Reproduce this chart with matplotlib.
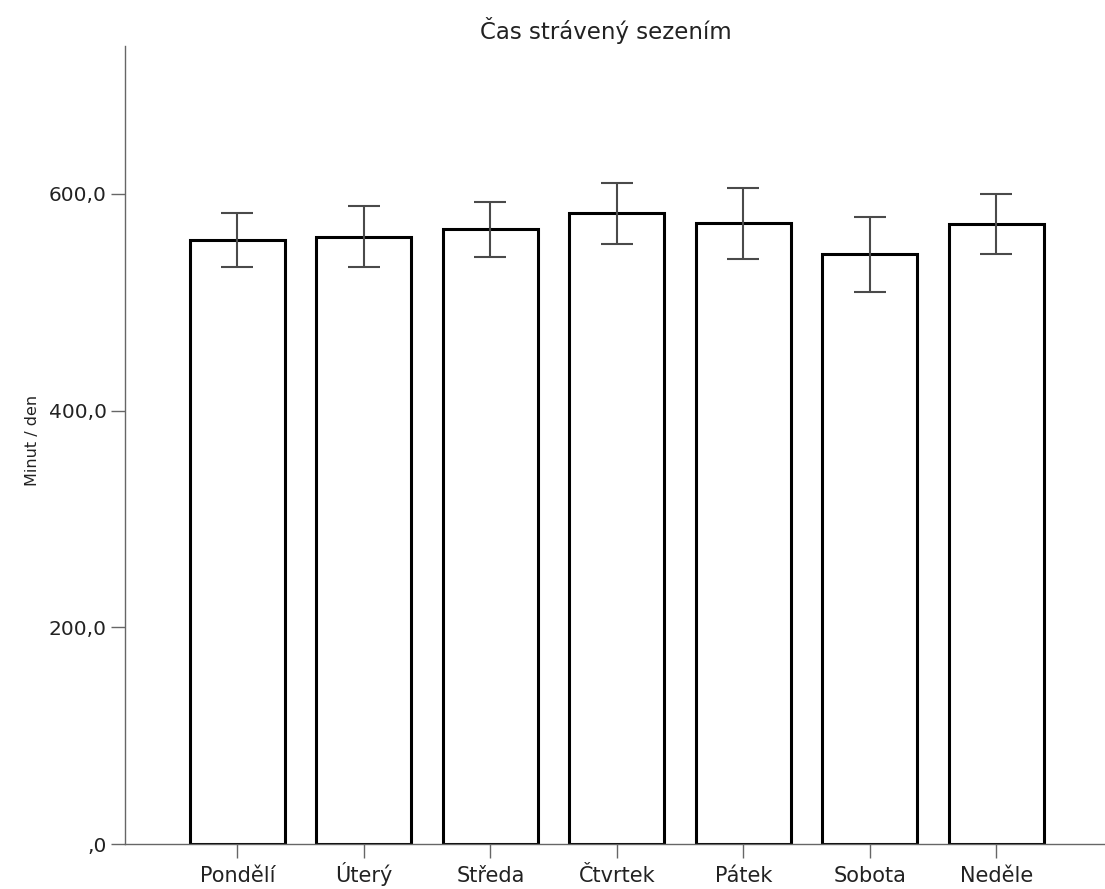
import matplotlib
matplotlib.use("Agg")
import matplotlib.pyplot as plt
from matplotlib.ticker import FixedLocator, FuncFormatter

# Mean daily sitting time per weekday with 95% CI
days = ["Pondělí", "Úterý", "Středa", "Čtvrtek", "Pátek", "Sobota", "Neděle"]
means = [557.5, 560.5, 567.5, 582.0, 572.8, 544.3, 572.0]
ci_low = [532.3, 532.9, 541.9, 553.9, 539.7, 509.8, 544.6]
ci_high = [582.7, 589.0, 592.4, 609.9, 605.3, 578.5, 599.7]
y_ticks = [0, 200, 400, 600]

plt.rcParams["font.family"] = ["DejaVu Sans"]
text_color = "#222222"
spine_color = "#666666"

fig = plt.figure(figsize=(11.05, 8.89), dpi=100)
ax = fig.add_axes([125 / 1105, 45 / 889, 980 / 1105, 798 / 889])

x = list(range(len(days)))
err_lo = [m - lo for m, lo in zip(means, ci_low)]
err_hi = [hi - m for m, hi in zip(means, ci_high)]

ax.bar(x, means, width=0.75, facecolor="white", edgecolor="black",
       linewidth=2.2, zorder=2)
ax.errorbar(x, means, yerr=[err_lo, err_hi], fmt="none", ecolor="#4a4a4a",
            elinewidth=1.5, capsize=11.5, capthick=1.5, zorder=3)

ax.set_xlim(-0.888, 6.859)
ax.set_ylim(0, 736.6)

for side in ("top", "right"):
    ax.spines[side].set_visible(False)
for side in ("left", "bottom"):
    ax.spines[side].set_color(spine_color)
    ax.spines[side].set_linewidth(1.0)

ax.xaxis.set_major_locator(FixedLocator(x))
ax.set_xticklabels(days, va="baseline")
ax.yaxis.set_major_locator(FixedLocator(y_ticks))
ax.yaxis.set_major_formatter(FuncFormatter(
    lambda v, p: ",0" if v == 0 else f"{v:.1f}".replace(".", ",")))

ax.tick_params(axis="both", direction="out", length=10, width=1.0,
               color=spine_color, labelcolor=text_color)
ax.tick_params(axis="x", labelsize=15, pad=17)
ax.tick_params(axis="y", labelsize=14.5, pad=3)

fig.text(606 / 1105, 1 - 30 / 889, "Čas strávený sezením", ha="center",
         va="center", fontsize=16.5, color=text_color)
fig.text(33 / 1105, 1 - 440 / 889, "Minut / den", ha="center", va="center",
         rotation=90, fontsize=11.5, color=text_color)

fig.savefig("out.png", dpi=100, facecolor="white")
